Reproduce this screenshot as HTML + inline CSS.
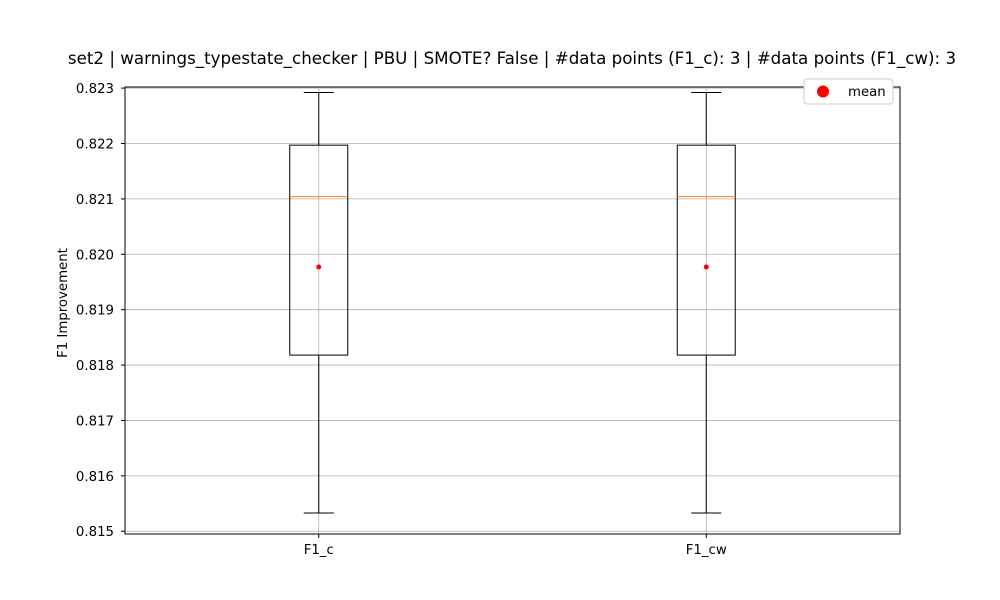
<!DOCTYPE html>
<html><head><meta charset="utf-8"><style>body{margin:0;background:#fff}svg{display:block;font-family:"DejaVu Sans","Liberation Sans",sans-serif}</style></head>
<body>
<svg id="chart" width="1000" height="600"></svg>
<script>
const categories = ["F1_c", "F1_cw"];
const whiskerLow = [0.81533, 0.81533];
const q1Values = [0.81818, 0.81818];
const medianValues = [0.82104, 0.82104];
const q3Values = [0.82197, 0.82197];
const whiskerHigh = [0.82292, 0.82292];
const meanValues = [0.81977, 0.81977];
const yTicks = [0.815, 0.816, 0.817, 0.818, 0.819, 0.820, 0.821, 0.822, 0.823];

const L=125,R=900,T=87,B=534;
const yMin=0.81495,yMax=0.82302;
const y=v=>B-(v-yMin)/(yMax-yMin)*(B-T);
const x=i=>L+(i+1-0.5)/2*(R-L);
const svg=document.getElementById('chart');
const NS='http://www.w3.org/2000/svg';
function mk(tag,attrs,name,parent){const e=document.createElementNS(NS,tag);for(const k in attrs)e.setAttribute(k,attrs[k]);


(parent||svg).appendChild(e);return e;}
yTicks.forEach(t=>{mk('line',{x1:L,x2:R,y1:y(t),y2:y(t),stroke:'#b0b0b0','stroke-width':0.8},'y-grid-line');});
categories.forEach((c,i)=>{mk('line',{x1:x(i),x2:x(i),y1:T,y2:B,stroke:'#b0b0b0','stroke-width':0.8},'x-grid-line');});
categories.forEach((c,i)=>{
 const cx=x(i),hw=29;
 mk('line',{x1:cx,x2:cx,y1:y(whiskerLow[i]),y2:y(q1Values[i]),stroke:'#000','stroke-width':1},'lower-whisker');
 mk('line',{x1:cx,x2:cx,y1:y(q3Values[i]),y2:y(whiskerHigh[i]),stroke:'#000','stroke-width':1},'upper-whisker');
 mk('line',{x1:cx-15,x2:cx+15,y1:y(whiskerLow[i]),y2:y(whiskerLow[i]),stroke:'#000','stroke-width':1},'lower-cap');
 mk('line',{x1:cx-15,x2:cx+15,y1:y(whiskerHigh[i]),y2:y(whiskerHigh[i]),stroke:'#000','stroke-width':1},'upper-cap');
 mk('rect',{x:cx-hw,y:y(q3Values[i]),width:2*hw,height:y(q1Values[i])-y(q3Values[i]),fill:'none',stroke:'#000','stroke-width':1},'box-'+c);
 mk('line',{x1:cx-hw,x2:cx+hw,y1:y(medianValues[i]),y2:y(medianValues[i]),stroke:'#ff7f0e','stroke-width':1},'median-line');
 mk('circle',{cx:cx,cy:y(meanValues[i]),r:2.5,fill:'red'},'mean-marker');
 mk('line',{x1:cx,x2:cx,y1:B,y2:B+4,stroke:'#000'},'x-tick');
 const t=mk('text',{x:cx,y:B+20,'text-anchor':'middle','font-size':13.3},'x-tick-label');t.textContent=c;
});
mk('rect',{x:L,y:T,width:R-L,height:B-T,fill:'none',stroke:'#000','stroke-width':1},'plot-frame');
yTicks.forEach(t=>{mk('line',{x1:L-4,x2:L,y1:y(t),y2:y(t),stroke:'#000'},'y-tick');
 const e=mk('text',{x:L-11,y:y(t)+5,'text-anchor':'end','font-size':13.3},'y-tick-label');e.textContent=t.toFixed(3);});
const yl=mk('text',{x:67,y:303,'text-anchor':'middle','font-size':13.3,transform:'rotate(-90 67 303)'},'y-axis-title');yl.textContent='F1 Improvement';
const ti=mk('text',{x:512,y:64,'text-anchor':'middle','font-size':16.7},'chart-title');ti.textContent='set2 | warnings_typestate_checker | PBU | SMOTE? False | #data points (F1_c): 3 | #data points (F1_cw): 3';
const lg=mk('g',{},'legend');
mk('rect',{x:804,y:79,width:89,height:25,rx:3,fill:'#fff',stroke:'#ccc'},'legend-box',lg);
mk('circle',{cx:823,cy:91.5,r:6,fill:'red'},'legend-mean-marker',lg);
const lt=mk('text',{x:848,y:96,'font-size':13.3},'legend-mean-label',lg);lt.textContent='mean';
</script>
</body></html>
